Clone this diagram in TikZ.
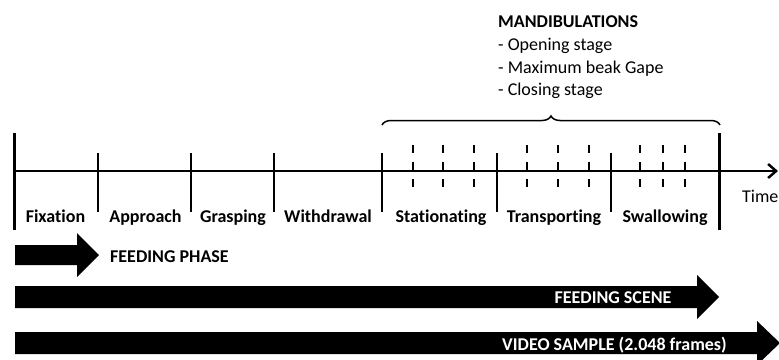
\documentclass[tikz,border=0pt]{standalone}
\usepackage{fontspec}
\setmainfont{Carlito}[Ligatures=NoCommon]
\usetikzlibrary{arrows.meta,decorations.pathreplacing}

\tikzset{
  stagelabel/.style={font=\fontsize{18}{22}\selectfont\bfseries, inner sep=0pt, anchor=base},
  listtext/.style={font=\fontsize{18}{22}\selectfont, inner sep=0pt, anchor=base west},
  barlabel/.style={font=\fontsize{18}{22}\selectfont\bfseries, inner sep=0pt, anchor=base},
  thintick/.style={line width=1.5pt},
  thicktick/.style={line width=3pt},
  mandtick/.style={line width=2pt, dash pattern=on 8pt off 9pt},
}

\begin{document}
\begin{tikzpicture}[x=1pt, y=-1pt]
  \useasboundingbox (0,0) rectangle (779,359);
  % Coordinates
  \coordinate (T0) at (14,171);
  \coordinate (T1) at (778,171);
  \coordinate (B0) at (382,125);
  \coordinate (B1) at (720,125);

  % Drawing
  \draw[line width=2.5pt, -{Straight Barb[length=8pt, width=14pt, line width=2.5pt]}] (T0) -- (T1);
  \draw[thicktick] (14,133) -- (14,230);
  \draw[thicktick] (719,133) -- (719,230);
  \foreach \x in {98,191,274,382,497,611}
    \draw[thintick] (\x,153) -- (\x,212);
  \foreach \x in {413,443,474,527,558,589,640,663,685}
    \draw[mandtick] (\x,145) -- (\x,187);
  \draw[line width=1.5pt, decorate, decoration={brace, amplitude=9pt}] (B0) -- (B1);

  % Labels
  \node[stagelabel] (fix) at (55.5,222) {Fixation};
  \node[stagelabel] (appr) at (145.5,222) {Approach};
  \node[stagelabel] (grasp) at (233,222) {Grasping};
  \node[stagelabel] (withd) at (328,222) {Withdrawal};
  \node[stagelabel] (stat) at (441,222) {Stationating};
  \node[stagelabel] (transp) at (554,222) {Transporting};
  \node[stagelabel] (swal) at (665,222) {Swallowing};
  \node[listtext] (time) at (742,202) {Time};

  \node[listtext] (mand) at (498,27) {\bfseries MANDIBULATIONS};
  \node[listtext] (open) at (498,50) {- Opening stage};
  \node[listtext] (gape) at (498,73) {- Maximum beak Gape};
  \node[listtext] (close) at (498,95) {- Closing stage};

  % Bars
  \fill[black] (15,245) -- (77,245) -- (77,233) -- (99,255) -- (77,277) -- (77,265) -- (15,265) -- cycle;
  \fill[black] (15,286) -- (697,286) -- (697,275) -- (719,297) -- (697,319) -- (697,308) -- (15,308) -- cycle;
  \fill[black] (15,332) -- (757,332) -- (757,321) -- (780,343) -- (757,365) -- (757,354) -- (15,354) -- cycle;
  \node[listtext] (phase) at (110,262) {\bfseries FEEDING PHASE};
  \node[barlabel, text=white] (scene) at (613,303) {FEEDING SCENE};
  \node[barlabel, text=white] (video) at (614.5,350) {VIDEO SAMPLE (2.048 frames)};
\end{tikzpicture}
\end{document}
